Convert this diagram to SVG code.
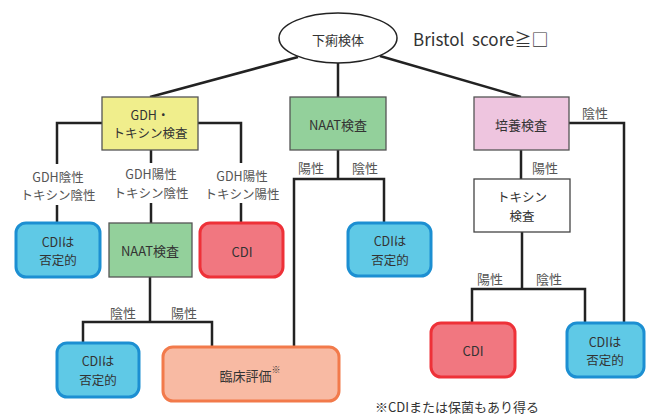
<svg xmlns="http://www.w3.org/2000/svg" width="649" height="416" viewBox="0 0 649 416">
<style>
text{font-family:"Noto Sans CJK JP","Noto Sans",sans-serif;font-size:13px;fill:#333;text-anchor:middle;dominant-baseline:central}
.two{font-size:12.5px}
.lbl{fill:#555}
.conn{fill:none;stroke:#222;stroke-width:2.5}
.rect{stroke:#555;stroke-width:1.3}
.blue{fill:#5FC9E6;stroke:#1C8FD2;stroke-width:3}
.red{fill:#F17780;stroke:#EE3138;stroke-width:3}
.org{fill:#F8BAA3;stroke:#F27A4B;stroke-width:3}
</style>
<rect width="649" height="416" fill="#fff"/>
<g id="connectors">
<line class="conn" x1="298" y1="57" x2="150" y2="97"/>
<line class="conn" x1="338" y1="63" x2="338" y2="97"/>
<line class="conn" x1="380" y1="56" x2="521" y2="97"/>
<polyline class="conn" points="102,123 57,123 57,223"/>
<line class="conn" x1="151" y1="150" x2="151" y2="223"/>
<polyline class="conn" points="198,123 241,123 241,223"/>
<line class="conn" x1="150" y1="277" x2="150" y2="322"/>
<polyline class="conn" points="83,343 83,322 212,322 212,347"/>
<line class="conn" x1="338" y1="150" x2="338" y2="179"/>
<polyline class="conn" points="294,347 294,179 384,179 384,223"/>
<line class="conn" x1="521" y1="150" x2="521" y2="179"/>
<polyline class="conn" points="569,123 624,123 624,323"/>
<line class="conn" x1="522" y1="232" x2="522" y2="289"/>
<polyline class="conn" points="472,323 472,289 585,289 585,323"/>
</g>
<g id="title">
<ellipse cx="338" cy="38" rx="59" ry="25" fill="#fff" stroke="#222" stroke-width="1.5"/>
<text x="338" y="39">下痢検体</text>
</g>
<g id="bristol">
<text x="413" y="38" style="font-size:17px;text-anchor:start;word-spacing:4px">Bristol score≧□</text>
</g>
<g id="gdh">
<rect class="rect" x="102" y="97" width="96" height="53" fill="#F0EE8C"/>
<text class="two" x="150" y="114">GDH・</text>
<text class="two" x="150" y="132.5">トキシン検査</text>
</g>
<g id="naat1">
<rect class="rect" x="290" y="97" width="96" height="53" fill="#93D09B"/>
<text x="338" y="124">NAAT検査</text>
</g>
<g id="culture">
<rect class="rect" x="474" y="97" width="95" height="53" fill="#EEC5DF"/>
<text x="521" y="124">培養検査</text>
</g>
<g id="label-gdh-neg">
<rect x="10" y="164" width="94" height="41" fill="#fff"/>
<text class="two lbl" x="58" y="176">GDH陰性</text>
<text class="two lbl" x="58" y="194.5">トキシン陰性</text>
</g>
<g id="label-gdh-pos-tox-neg">
<rect x="105" y="163" width="92" height="40" fill="#fff"/>
<text class="two lbl" x="151" y="173.5">GDH陽性</text>
<text class="two lbl" x="151" y="192">トキシン陰性</text>
</g>
<g id="label-gdh-pos-tox-pos">
<rect x="198" y="163" width="90" height="40" fill="#fff"/>
<text class="two lbl" x="242" y="175">GDH陽性</text>
<text class="two lbl" x="242" y="193.5">トキシン陽性</text>
</g>
<g id="cdi-neg1">
<rect class="blue" x="16" y="223" width="84" height="54" rx="10"/>
<text class="two" x="58" y="241">CDIは</text>
<text class="two" x="58" y="259.5">否定的</text>
</g>
<g id="naat2">
<rect class="rect" x="109" y="223" width="83" height="54" fill="#93D09B"/>
<text x="150" y="250">NAAT検査</text>
</g>
<g id="cdi1">
<rect class="red" x="200" y="223" width="83" height="54" rx="10"/>
<text x="242" y="251">CDI</text>
</g>
<g id="labels-naat1">
<text class="lbl" x="311" y="167">陽性</text>
<text class="lbl" x="365" y="167">陰性</text>
</g>
<g id="cdi-neg2">
<rect class="blue" x="348" y="223" width="83" height="53" rx="10"/>
<text class="two" x="390" y="240.5">CDIは</text>
<text class="two" x="390" y="259">否定的</text>
</g>
<g id="labels-culture">
<text class="lbl" x="595" y="112">陰性</text>
<text class="lbl" x="545" y="167">陽性</text>
</g>
<g id="toxin">
<rect x="474" y="179" width="96" height="53" fill="#fff" stroke="#444" stroke-width="1.3"/>
<text class="two" x="522" y="196.5">トキシン</text>
<text class="two" x="522" y="215">検査</text>
</g>
<g id="labels-toxin">
<text class="lbl" x="490" y="278">陽性</text>
<text class="lbl" x="549" y="278">陰性</text>
</g>
<g id="labels-naat2">
<text class="lbl" x="123" y="312">陰性</text>
<text class="lbl" x="184" y="312">陽性</text>
</g>
<g id="cdi-neg3">
<rect class="blue" x="57" y="343" width="82" height="54" rx="10"/>
<text class="two" x="98" y="360.5">CDIは</text>
<text class="two" x="98" y="379">否定的</text>
</g>
<g id="clinical">
<rect class="org" x="163" y="347" width="176" height="54" rx="10"/>
<text x="250" y="375">臨床評価<tspan dy="-6" style="font-size:9px">※</tspan></text>
</g>
<g id="cdi2">
<rect class="red" x="431" y="323" width="84" height="54" rx="10"/>
<text x="473" y="350">CDI</text>
</g>
<g id="cdi-neg4">
<rect class="blue" x="567" y="323" width="77" height="54" rx="10"/>
<text class="two" x="605" y="341">CDIは</text>
<text class="two" x="605" y="359.5">否定的</text>
</g>
<g id="footnote">
<text x="375" y="406" style="text-anchor:start">※CDIまたは保菌もあり得る</text>
</g>
</svg>
